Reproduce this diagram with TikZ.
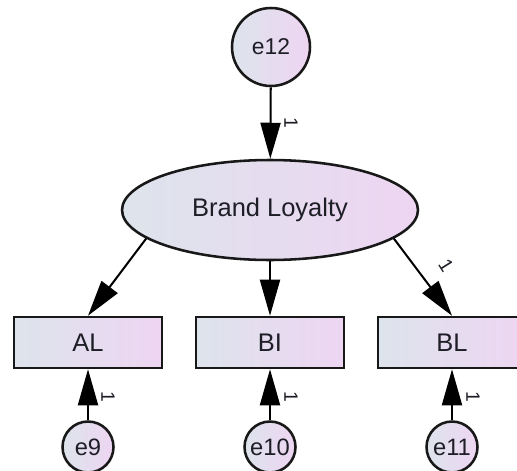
\documentclass[tikz,border=0pt]{standalone}
\usepackage{fontspec}
\setmainfont{Liberation Sans}
\usetikzlibrary{shapes.geometric,arrows.meta}

\definecolor{fillleft}{RGB}{221,228,236}
\definecolor{fillright}{RGB}{238,213,242}
\definecolor{edgeink}{RGB}{24,24,24}
\definecolor{textink}{RGB}{30,30,38}

\tikzset{
  pastel/.style={left color=fillleft, right color=fillright, draw=edgeink,
    line width=1.45pt, text=textink, inner sep=0pt},
  latent/.style={pastel, ellipse, minimum width=5.92cm, minimum height=2cm,
    font=\fontsize{14.5}{17}\selectfont},
  observed/.style={pastel, rectangle, minimum width=2.96cm, minimum height=1.02cm,
    font=\fontsize{14.5}{17}\selectfont},
  errbig/.style={pastel, circle, minimum size=1.56cm,
    font=\fontsize{13}{15}\selectfont},
  errsmall/.style={pastel, circle, minimum size=1.02cm,
    font=\fontsize{13.5}{15}\selectfont},
  regpath/.style={draw=black, line width=1.15pt,
    -{Triangle[length=0.72cm,width=0.4cm]}},
  onelab/.style={font=\fontsize{11}{13}\selectfont, inner sep=0pt, text=textink}
}

\begin{document}
\begin{tikzpicture}[x=0.02cm, y=-0.02cm]
  \useasboundingbox (0,0) rectangle (517,470);
  \clip (0,0) rectangle (517,470);

  \node (e12) at (271, 47) [errbig] {e12};
  \node (loyal) at (270, 210) [latent] {Brand Loyalty};

  \node (al) at ( 88, 342.5) [observed] {AL};
  \node (bi) at (270, 342.5) [observed] {BI};
  \node (bl) at (452, 342.5) [observed] {BL};

  \node (e9)  at ( 88, 447) [errsmall] {e9};
  \node (e10) at (270, 447) [errsmall] {e10};
  \node (e11) at (452, 447) [errsmall] {e11};

  \draw [regpath] (e12) -- (loyal);
  \draw [regpath] (loyal.193) -- (al.north);
  \draw [regpath] (loyal) -- (bi);
  \draw [regpath] (loyal.347) -- (bl.north);

  \draw [regpath] (e9) -- (al);
  \draw [regpath] (e10) -- (bi);
  \draw [regpath] (e11) -- (bl);

  % fixed weights
  \node (w12) at (291, 123) [onelab, rotate=-90] {1};
  \node (wbl) at (446, 266) [onelab, rotate=-58] {1};
  \node (w9)  at (108, 397) [onelab, rotate=-90] {1};
  \node (w10) at (291, 397) [onelab, rotate=-90] {1};
  \node (w11) at (473, 397) [onelab, rotate=-90] {1};
\end{tikzpicture}
\end{document}
